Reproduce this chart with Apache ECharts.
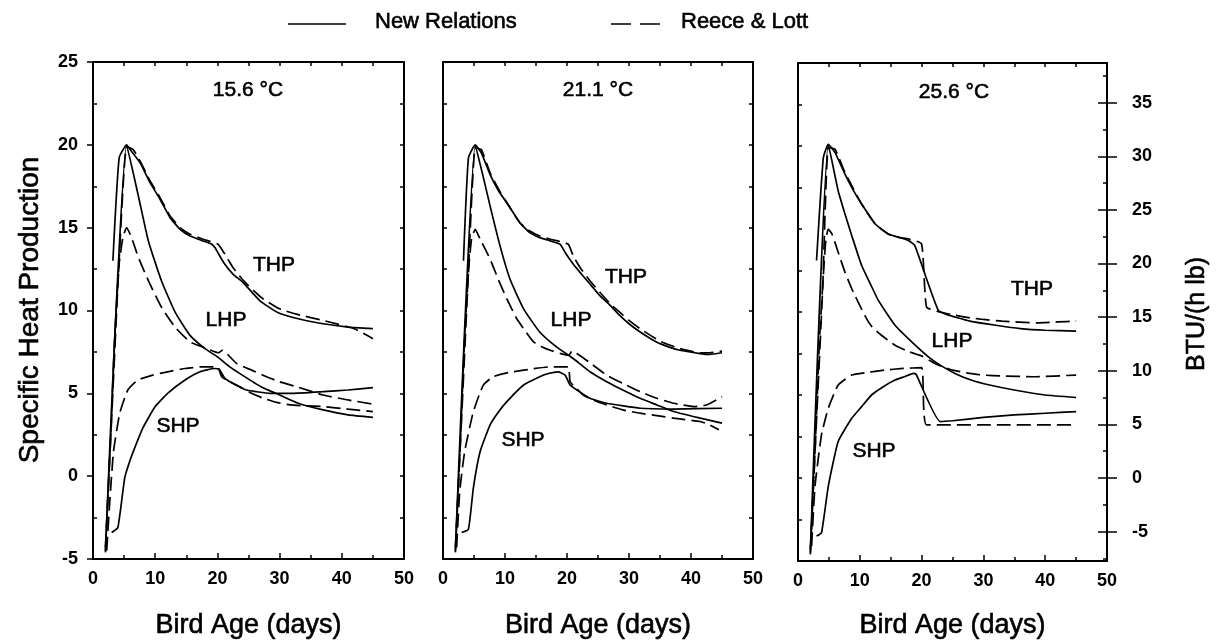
<!DOCTYPE html>
<html><head><meta charset="utf-8">
<script src="https://cdn.jsdelivr.net/npm/echarts@6/dist/echarts.min.js"></script>
<style>html,body{margin:0;padding:0;background:#fff}#c{width:1220px;height:643px}</style>
</head><body><div id="c"></div>
<script>
// ---------- text / ticks ----------
const panelTitles = ['15.6 °C', '21.1 °C', '25.6 °C'];
const curveNames = ['THP', 'LHP', 'SHP'];
const legendNames = ['New Relations', 'Reece & Lott'];
const xTitle = 'Bird Age (days)';
const yTitleLeft = 'Specific Heat Production';
const yTitleRight = 'BTU/(h lb)';
const xRange = [0, 50];
const yRange = [-5, 25];
const btuTicks = [-5, 0, 5, 10, 15, 20, 25, 30, 35];
const btuMinorTicks = [-7.5, -2.5, 2.5, 7.5, 12.5, 17.5, 22.5, 27.5, 32.5, 37.5];
const W_PER_KG_TO_BTU_PER_H_LB = 1.548;

// ---------- panel 1 : 15.6 °C ----------
const p1_thp_new = [[3.2,13.0],[4.2,19.2],[5.4,20.0],[6.2,19.6],[7.6,18.9],[9.2,17.7],[10.8,16.7],[12.4,15.6],[14,14.9],[15.6,14.5],[17.7,14.2],[19.1,14.0],[19.6,13.8],[21,12.9],[22.5,12.2],[24.1,11.7],[26.8,10.6],[29.6,9.9],[33,9.5],[37,9.2],[41,9.0],[45,8.9]];
const p1_thp_rl  = [[2,-4.3],[3,3.5],[4,11.5],[5.4,19.9],[6.5,19.7],[7.6,19.0],[9.2,17.8],[10.8,16.8],[12.4,15.7],[14,15.0],[15.6,14.6],[17.7,14.3],[20.1,14.0],[21.2,13.4],[22.5,12.6],[24.2,11.8],[27,10.8],[30,10.1],[33,9.75],[37,9.4],[42,8.9],[45,8.3]];
const p1_lhp_new = [[2,-4.5],[5.4,20.0],[7.3,16.9],[8.9,14.2],[11,11.8],[13.2,9.9],[15.6,8.5],[18,7.7],[20,7.2],[22,6.6],[24,6.1],[27,5.4],[30,4.9],[33,4.4],[37,4.0],[41,3.7],[45,3.55]];
const p1_lhp_rl  = [[2,-4.6],[2.8,2.0],[3.5,8.5],[4.2,12.8],[4.8,14.4],[5.4,15.0],[6.2,14.4],[7.3,13.2],[8.9,11.8],[11,10.2],[13.2,9.0],[15.6,8.1],[18.3,7.7],[20.2,7.45],[20.8,7.6],[23.1,6.8],[25.5,6.4],[27.9,6.0],[30,5.7],[32.7,5.4],[37,4.9],[41,4.6],[45,4.35]];
const p1_shp_new = [[3,-3.4],[4,-3.1],[5.1,-0.1],[6,1.0],[6.8,1.8],[8,2.9],[10,4.2],[12,5.0],[14.8,5.8],[17.2,6.3],[19.5,6.5],[20.3,6.45],[21.2,5.9],[22.5,5.6],[24.7,5.2],[28.5,5.0],[32,5.0],[37,5.1],[41,5.2],[45,5.35]];
const p1_shp_rl  = [[2.2,-4.5],[2.7,-1.5],[3.3,1.5],[4.3,3.8],[5.6,5.2],[7.2,5.8],[9.6,6.1],[12,6.3],[14.8,6.5],[17.5,6.6],[20,6.6],[20.7,6.0],[22,5.7],[23.6,5.4],[25.5,5.0],[27.4,4.7],[29.5,4.45],[31.7,4.3],[34,4.25],[37,4.2],[41,4.05],[45,3.9]];

// ---------- panel 2 : 21.1 °C ----------
const p2_thp_new = [[3.3,13.0],[4.1,19.2],[5.2,20.0],[6.2,19.5],[7.6,18.2],[9,17.2],[10.3,16.5],[12.4,15.3],[14,14.7],[15.6,14.4],[17.3,14.2],[18.9,14.0],[19.7,13.5],[21,12.8],[22.1,12.3],[23.7,11.6],[25.3,10.9],[27,10.3],[28.5,9.7],[30,9.2],[31.8,8.7],[33.5,8.3],[35,8.0],[38.2,7.6],[41.5,7.4],[43,7.35],[45,7.45]];
const p2_thp_rl  = [[2,-4.3],[3,3.5],[4,11.5],[5.2,19.8],[6.2,19.7],[7.6,18.3],[9,17.3],[10.3,16.5],[12.4,15.3],[14,14.8],[15.6,14.5],[17.3,14.3],[18.5,14.2],[20.2,14.0],[21,13.3],[22.1,12.6],[23.7,11.8],[25.3,11.1],[27,10.4],[28.5,9.9],[30,9.4],[31.8,8.9],[35,8.15],[38.2,7.7],[41.5,7.45],[43,7.45],[45,7.55]];
const p2_lhp_new = [[2,-4.5],[5.2,20.0],[6.4,18.2],[7.6,16.3],[9.2,13.9],[10.8,11.9],[13,10.1],[15.6,8.7],[18.3,7.8],[21,7.1],[23.7,6.3],[26.4,5.7],[29,5.2],[31.8,4.7],[34.5,4.3],[37.2,3.9],[41.5,3.5],[45,3.2]];
const p2_lhp_rl  = [[2,-4.6],[2.8,2.0],[3.5,8.5],[4.2,12.8],[4.6,14.3],[5.2,14.9],[6,14.3],[7.6,13.1],[9,11.8],[10.3,10.7],[11.9,9.5],[13.2,8.8],[14.6,8.1],[16,7.8],[17.3,7.6],[19,7.4],[20.3,7.3],[20.8,7.55],[22,7.3],[23.5,6.9],[26.4,6.1],[29,5.6],[31.8,5.1],[34.5,4.7],[37.2,4.4],[40.4,4.2],[42.5,4.3],[45,4.8]];
const p2_shp_new = [[3,-3.4],[4.1,-3.2],[4.9,-0.7],[6,1.5],[7.6,3.1],[9,3.9],[10.3,4.5],[13,5.5],[15.6,6.0],[17,6.2],[18.6,6.3],[19.7,6.1],[20.5,5.5],[21.6,5.2],[23.7,4.7],[26.4,4.4],[31.8,4.1],[37,4.05],[45,4.1]];
const p2_shp_rl  = [[2.2,-4.3],[2.7,-0.9],[3.5,1.5],[4.9,3.9],[6.5,5.5],[8.1,6.0],[10.5,6.25],[13,6.4],[17.3,6.6],[20.2,6.6],[20.5,5.7],[21.5,5.3],[22.6,4.9],[24.5,4.55],[26.4,4.3],[29,4.0],[31.8,3.8],[34.5,3.65],[37.2,3.5],[41.5,3.3],[43,3.1],[44.5,2.8]];

// ---------- panel 3 : 25.6 °C ----------
const p3_thp_new = [[3,13.1],[4.1,19.3],[4.9,20.1],[6,19.6],[7.6,18.3],[9,17.3],[10.3,16.5],[12.5,15.3],[14.6,14.7],[16.3,14.5],[17.9,14.3],[18.9,14.0],[20.8,12.0],[22.7,10.1],[24,9.85],[25.4,9.7],[27.8,9.45],[32,9.2],[36,9.0],[40,8.9],[45,8.85]];
const p3_thp_rl  = [[2,-4.3],[3,3.5],[4,11.5],[4.9,19.9],[6,19.8],[7.6,18.4],[9,17.4],[10.3,16.5],[12.5,15.3],[14.6,14.7],[16.3,14.5],[17.9,14.4],[20,14.1],[20.8,10.3],[23,10.0],[25.5,9.8],[27.8,9.65],[30,9.55],[33,9.45],[38.6,9.35],[42,9.4],[45,9.45]];
const p3_lhp_new = [[2,-4.5],[4.9,20.1],[6.5,17.3],[7.6,15.9],[8.7,14.6],[10.3,12.8],[11.7,11.7],[13,10.7],[15.7,9.2],[18.4,8.2],[21.1,7.3],[23,6.8],[25.4,6.3],[28,5.9],[31,5.6],[35,5.3],[40,5.0],[45,4.85]];
const p3_lhp_rl  = [[2,-4.6],[2.8,2.0],[3.5,8.5],[4.2,12.8],[4.5,14.3],[4.9,15.0],[5.5,14.7],[6.5,13.6],[7.6,12.4],[8.7,11.4],[10.8,9.8],[12,9.1],[13.5,8.6],[15.7,8.0],[18,7.6],[20,7.35],[22.4,6.85],[25,6.5],[27.8,6.3],[30,6.2],[33,6.15],[38,6.1],[45,6.2]];
const p3_shp_new = [[3,-3.5],[3.8,-3.3],[4.9,-0.5],[6.5,2.2],[8.7,3.6],[10.3,4.3],[11.9,5.0],[13.8,5.5],[15.7,5.9],[17.2,6.1],[18.7,6.3],[19.1,6.25],[23,3.4],[25,3.45],[30,3.65],[35,3.8],[40,3.9],[45,4.0]];
const p3_shp_rl  = [[2.2,-4.1],[2.75,-0.5],[3.8,2.6],[4.9,4.2],[6.5,5.6],[8.7,6.2],[11,6.35],[14,6.5],[17,6.6],[20,6.65],[20.8,3.2],[30,3.2],[45,3.2]];

const panelSeries = [
  [p1_thp_new, p1_thp_rl, p1_lhp_new, p1_lhp_rl, p1_shp_new, p1_shp_rl],
  [p2_thp_new, p2_thp_rl, p2_lhp_new, p2_lhp_rl, p2_shp_new, p2_shp_rl],
  [p3_thp_new, p3_thp_rl, p3_lhp_new, p3_lhp_rl, p3_shp_new, p3_shp_rl]
];

// ---------- layout ----------
const FONT = '"Liberation Sans", Arial, Helvetica, sans-serif';
const BLACK = '#000';
const grids = [
  {left: 93, top: 62, width: 311, height: 497},
  {left: 443, top: 62, width: 310, height: 497},
  {left: 798, top: 63, width: 309, height: 498}
];
const titlePos = [[248, 90], [598, 90], [954, 92]];
const curveLabelPos = [
  [[274, 265], [226, 320], [178, 426]],
  [[626, 277], [571, 320], [523, 440]],
  [[1032, 289], [952, 341], [874, 451]]
];

function axLine(show) { return {show: show, onZero: false, lineStyle: {color: BLACK, width: 2}}; }
function tk(show, inside, length, extra) {
  return Object.assign({show: show, inside: inside, length: length, lineStyle: {color: BLACK, width: 1.5}}, extra || {});
}
const tickLabel = {fontSize: 18, fontWeight: 'bold', color: BLACK, fontFamily: FONT};

const xAxis = [], yAxis = [], bottomIdx = [], leftIdx = [];
grids.forEach(function (g, i) {
  g.containLabel = false; g.outerBoundsMode = 'none'; g.show = false;
  xAxis.push({gridIndex: i, type: 'value', position: 'bottom', min: xRange[0], max: xRange[1], interval: 10,
    axisLine: axLine(true), axisTick: tk(true, true, 6),
    minorTick: {show: true, splitNumber: 2, length: 4, lineStyle: {color: BLACK, width: 1.5}},
    axisLabel: Object.assign({show: true, margin: 11}, tickLabel),
    splitLine: {show: false}, minorSplitLine: {show: false}});
  bottomIdx.push(xAxis.length - 1);
  xAxis.push({gridIndex: i, type: 'value', position: 'top', min: xRange[0], max: xRange[1], interval: 5,
    axisLine: axLine(true), axisTick: tk(true, true, 4), axisLabel: {show: false}, splitLine: {show: false}});

  if (i === 0) {
    yAxis.push({gridIndex: i, type: 'value', position: 'left', min: yRange[0], max: yRange[1], interval: 5,
      axisLine: axLine(true), axisTick: tk(true, false, 6),
      axisLabel: Object.assign({show: true, margin: 15}, tickLabel), splitLine: {show: false}});
    leftIdx.push(yAxis.length - 1);
    yAxis.push({gridIndex: i, type: 'value', position: 'left', min: yRange[0], max: yRange[1], interval: 5,
      axisLine: axLine(false), axisTick: tk(false, true, 4),
      minorTick: {show: true, splitNumber: 2, length: 4, lineStyle: {color: BLACK, width: 1.5}},
      axisLabel: {show: false}, splitLine: {show: false}, minorSplitLine: {show: false}});
  } else {
    yAxis.push({gridIndex: i, type: 'value', position: 'left', min: yRange[0], max: yRange[1], interval: 2.5,
      axisLine: axLine(true), axisTick: tk(true, true, 4), axisLabel: {show: false}, splitLine: {show: false}});
    leftIdx.push(yAxis.length - 1);
  }
  if (i < 2) {
    yAxis.push({gridIndex: i, type: 'value', position: 'right', min: yRange[0], max: yRange[1], interval: 2.5,
      axisLine: axLine(true), axisTick: tk(true, true, 4), axisLabel: {show: false}, splitLine: {show: false}});
  } else {
    const bMin = yRange[0] * W_PER_KG_TO_BTU_PER_H_LB, bMax = yRange[1] * W_PER_KG_TO_BTU_PER_H_LB;
    yAxis.push({gridIndex: i, type: 'value', position: 'right', min: bMin, max: bMax,
      axisLine: axLine(true), axisTick: tk(true, false, 10, {customValues: btuTicks}),
      axisLabel: Object.assign({show: true, margin: 25, customValues: btuTicks}, tickLabel), splitLine: {show: false}});
    yAxis.push({gridIndex: i, type: 'value', position: 'right', min: bMin, max: bMax,
      axisLine: axLine(false), axisTick: tk(true, true, 9, {customValues: btuTicks}),
      axisLabel: {show: false}, splitLine: {show: false}});
    yAxis.push({gridIndex: i, type: 'value', position: 'right', min: bMin, max: bMax,
      axisLine: axLine(false), axisTick: tk(true, true, 4, {customValues: btuMinorTicks}),
      axisLabel: {show: false}, splitLine: {show: false}});
  }
});

const series = [];
panelSeries.forEach(function (list, i) {
  list.forEach(function (data, k) {
    const dashed = (k % 2) === 1;
    series.push({type: 'line', name: legendNames[dashed ? 1 : 0], xAxisIndex: bottomIdx[i], yAxisIndex: leftIdx[i],
      data: data, symbol: 'none', smooth: 0.15, silent: true, clip: false, animation: false,
      lineStyle: {color: BLACK, width: 1.7, type: dashed ? [14, 6] : 'solid'}});
  });
});

const graphic = [];
function txt(text, x, y, size, opts, align) {
  graphic.push(Object.assign({type: 'text', x: x, y: y, silent: true,
    style: {text: text, fill: BLACK, stroke: BLACK, lineWidth: 0.6, fontSize: size, fontFamily: FONT,
      align: align || 'center', verticalAlign: 'middle'}}, opts || {}));
}
panelTitles.forEach(function (t, i) { txt(t, titlePos[i][0], titlePos[i][1], 21); });
curveLabelPos.forEach(function (arr, i) {
  arr.forEach(function (p, k) { txt(curveNames[k], p[0], p[1], 21); });
});
grids.forEach(function (g) { txt(xTitle, g.left + g.width / 2, 626, 27); });
txt(yTitleLeft, 30, 310, 28, {rotation: Math.PI / 2});
txt(yTitleRight, 1197, 314, 25, {rotation: Math.PI / 2});
// legend
graphic.push({type: 'line', silent: true, shape: {x1: 288, y1: 24, x2: 346, y2: 24}, style: {stroke: BLACK, lineWidth: 1.7}});
graphic.push({type: 'line', silent: true, shape: {x1: 611, y1: 24, x2: 661, y2: 24}, style: {stroke: BLACK, lineWidth: 1.7, lineDash: [20, 9]}});
txt(legendNames[0], 375, 22, 22, null, 'left');
txt(legendNames[1], 681, 22, 22, null, 'left');

const chart = echarts.init(document.getElementById('c'), null, {renderer: 'canvas'});
chart.setOption({
  backgroundColor: '#fff',
  animation: false,
  textStyle: {fontFamily: FONT},
  grid: grids,
  xAxis: xAxis,
  yAxis: yAxis,
  series: series,
  graphic: graphic
});
</script></body></html>
